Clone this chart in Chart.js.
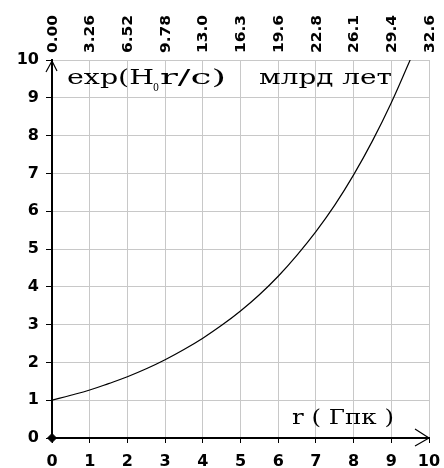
<!DOCTYPE html>
<html><head><meta charset="utf-8">
<script src="https://cdn.jsdelivr.net/npm/chart.js@4.4.1/dist/chart.umd.min.js"></script>
<style>html,body{margin:0;padding:0;background:#fff;}canvas{display:block;}</style>
</head><body>
<canvas id="c" width="444" height="468"></canvas>
<script>
// Data
const rValues = [0,0.5,1,1.5,2,2.5,3,3.5,4,4.5,5,5.5,6,6.5,7,7.5,8,8.5,9,9.5];
const expValues = [1.00,1.13,1.27,1.44,1.62,1.83,2.07,2.34,2.64,2.98,3.36,3.79,4.28,4.84,5.46,6.16,6.96,7.86,8.87,10.0];
const bottomTicks = [0,1,2,3,4,5,6,7,8,9,10];
const topTickLabels = ["0.00","3.26","6.52","9.78","13.0","16.3","19.6","22.8","26.1","29.4","32.6"];
const yTicks = [0,1,2,3,4,5,6,7,8,9,10];

const points = rValues.map((r,i)=>({x:r,y:expValues[i]}));

function drawScaled(ctx, text, x, y, w, font){
  ctx.font = font;
  const m = ctx.measureText(text).width;
  ctx.save();
  ctx.translate(x,y);
  ctx.scale(w/m,1);
  ctx.fillText(text,0,0);
  ctx.restore();
}

const overlay = {
  id:'overlay',
  afterDraw(chart){
    const ctx = chart.ctx;
    const xs = chart.scales.x, ys = chart.scales.y;
    const x0 = xs.getPixelForValue(0), x10 = xs.getPixelForValue(10);
    const y0 = ys.getPixelForValue(0), y10 = ys.getPixelForValue(10);
    ctx.save();
    ctx.strokeStyle = '#000';
    ctx.lineWidth = 1.2;
    // arrows
    ctx.beginPath();
    ctx.moveTo(x0-6, y10+12); ctx.lineTo(x0, y10+1); ctx.lineTo(x0+5, y10+11);
    ctx.moveTo(x10-14, y0-9); ctx.lineTo(x10, y0); ctx.lineTo(x10-14, y0+8);
    ctx.stroke();
    // top axis labels (rotated, reading bottom-to-top)
    ctx.fillStyle = '#000';
    bottomTicks.forEach((v,i)=>{
      const px = xs.getPixelForValue(v);
      ctx.save();
      ctx.translate(px+1, y10-7);
      ctx.rotate(-Math.PI/2);
      ctx.textAlign = 'left';
      ctx.textBaseline = 'middle';
      drawScaled(ctx, topTickLabels[i], 0, 0, 38, 'bold 14px "DejaVu Sans"');
      ctx.restore();
    });
    // texts
    ctx.textBaseline = 'alphabetic';
    ctx.textAlign = 'left';
    drawScaled(ctx, 'exp(H', 67, 84, 87, '21px "DejaVu Serif"');
    drawScaled(ctx, '0', 153, 91, 6, '11px "DejaVu Serif"');
    drawScaled(ctx, 'r/c)', 160, 84, 66, '21px "DejaVu Serif"');
    drawScaled(ctx, 'млрд лет', 259, 84, 133, '21px "DejaVu Serif"');
    drawScaled(ctx, 'r ( Гпк )', 292, 424, 102, '21px "DejaVu Serif"');
    ctx.restore();
  }
};

new Chart(document.getElementById('c'), {
  type:'scatter',
  data:{datasets:[
    {data:points, showLine:true, borderColor:'#000', borderWidth:1.2, pointRadius:0, tension:0.4, fill:false},
    {data:[{x:0,y:0}], pointStyle:'rectRot', pointRadius:4.5, backgroundColor:'#000', borderColor:'#000', clip:false}
  ]},
  options:{
    responsive:false, animation:false, devicePixelRatio:1,
    layout:{padding:{left:0,right:15,top:0,bottom:0}},
    plugins:{legend:{display:false}, tooltip:{enabled:false}},
    scales:{
      x:{type:'linear', position:'bottom', min:0, max:10,
        afterBuildTicks(s){ s.ticks = bottomTicks.map(v=>({value:v})); },
        afterFit(s){ s.height = 30; s.paddingRight = 0; s.paddingLeft = 0; },
        grid:{color:'#c8c8c8', lineWidth:1, tickColor:'#000', tickLength:5},
        border:{color:'#000', width:2},
        ticks:{color:'#000', padding:9, maxRotation:0, font:{family:'DejaVu Sans', weight:'bold', size:16}}
      },
      x2:{type:'linear', position:'top', min:0, max:10,
        afterFit(s){ s.height = 60; s.paddingRight = 0; s.paddingLeft = 0; },
        grid:{display:false, drawTicks:false},
        border:{display:false},
        ticks:{display:false}
      },
      y:{type:'linear', position:'left', min:0, max:10,
        afterBuildTicks(s){ s.ticks = yTicks.map(v=>({value:v})); },
        afterFit(s){ s.width = 52; s.paddingTop = 0; s.paddingBottom = 0; },
        grid:{color:'#c8c8c8', lineWidth:1, tickColor:'#000', tickLength:6},
        border:{color:'#000', width:2},
        ticks:{color:'#000', padding:7, font:{family:'DejaVu Sans', weight:'bold', size:16}}
      }
    }
  },
  plugins:[overlay]
});
</script>
</body></html>
